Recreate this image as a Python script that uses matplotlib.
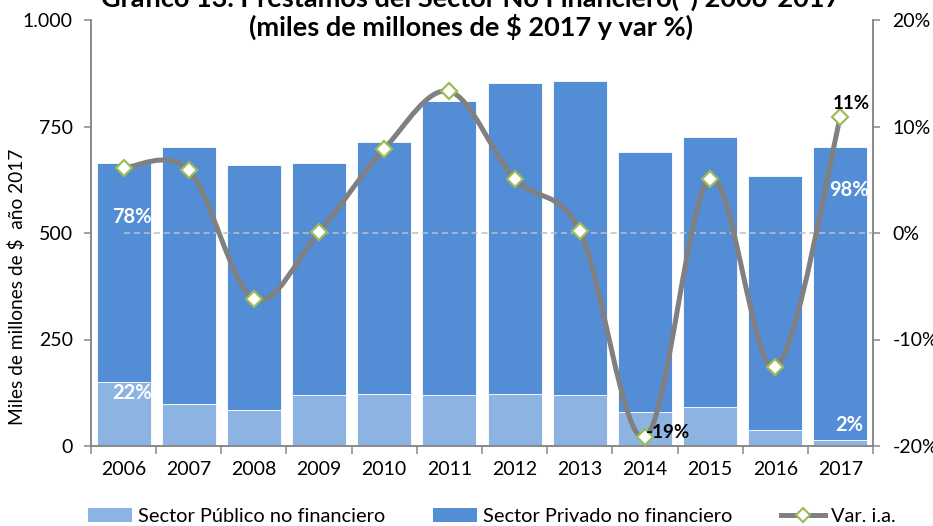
import matplotlib
matplotlib.use("Agg")
import matplotlib.pyplot as plt
from matplotlib.path import Path
from matplotlib.patches import PathPatch, Patch
from matplotlib.lines import Line2D
import numpy as np

plt.rcParams['font.family'] = ['Lato', 'DejaVu Sans']

years = ['2006', '2007', '2008', '2009', '2010', '2011', '2012', '2013', '2014', '2015', '2016', '2017']
publico = [150, 99, 85, 120, 123, 120, 123, 120, 80, 92, 37, 14]
total = [664, 702, 660, 664, 714, 810, 852, 857, 690, 725, 634, 702]
privado = [t - p for t, p in zip(total, publico)]
var_ia = [6.1, 5.9, -6.2, 0.1, 7.9, 13.3, 5.1, 0.2, -19.2, 5.1, -12.6, 10.9]

left_ticks = [0, 250, 500, 750, 1000]
left_ticklabels = ['0', '250', '500', '750', '1.000']
right_ticks = [-20, -10, 0, 10, 20]
right_ticklabels = ['-20%', '-10%', '0%', '10%', '20%']

share_labels = [(0, 'priv', '78%'), (0, 'pub', '22%'), (11, 'priv', '98%'), (11, 'pub', '2%')]
var_labels = [(8, '-19%'), (11, '11%')]

c_pub = '#8DB3E2'
c_priv = '#538DD5'
c_line = '#808080'
c_mark = '#9BBB59'
c_axis = '#868686'

fig = plt.figure(figsize=(9.33, 5.26), dpi=100)
ax = fig.add_axes([91/933, 1-446/526, (873-91)/933, (446-20)/526])
ax2 = ax.twinx()

x = np.arange(len(years))
w = 0.83
ax.bar(x, publico, width=w, color=c_pub, edgecolor='white', linewidth=0.6, zorder=2)
ax.bar(x, privado, width=w, bottom=publico, color=c_priv, edgecolor='white', linewidth=0.6, zorder=2)

ax.set_xlim(-0.5, len(years) - 0.5)
ax.set_ylim(0, 1000)
ax2.set_ylim(-20, 20)

# share labels
for i, kind, txt in share_labels:
    if kind == 'priv':
        yy = 537 if i == 0 else 601
    else:
        yy = 124 if i == 0 else 49
    ax.text(i + 0.13, yy, txt, color='white', fontsize=14.5, fontweight='bold',
            ha='center', va='center', zorder=5)

# zero dashed line
ax2.plot([0, len(years) - 0.5], [0, 0], color='#BFBFBF', lw=1.1, ls=(0, (4, 2.5)), zorder=1)

# smooth line (Catmull-Rom bezier like Excel's smoothing)
pts = np.column_stack([x, var_ia]).astype(float)
n = len(pts)
verts = [pts[0]]
codes = [Path.MOVETO]
for i in range(n - 1):
    p0 = pts[i - 1] if i > 0 else pts[i]
    p1 = pts[i]
    p2 = pts[i + 1]
    p3 = pts[i + 2] if i + 2 < n else pts[i + 1]
    c1 = p1 + (p2 - p0) / 6.0
    c2 = p2 - (p3 - p1) / 6.0
    verts += [c1, c2, p2]
    codes += [Path.CURVE4] * 3
path = Path(verts, codes)
ax2.add_patch(PathPatch(path, facecolor='none', edgecolor=c_line, lw=3.6, capstyle='round', zorder=3))
ax2.plot(x, var_ia, ls='none', marker='D', ms=8, mfc='white', mec=c_mark, mew=1.6, zorder=4)

for i, txt in var_labels:
    if i == 8:
        ax2.text(i + 0.36, -18.7, txt, fontsize=13.5, fontweight='bold', ha='center', va='center', zorder=5)
    else:
        ax2.text(i + 0.17, 12.2, txt, fontsize=13.5, fontweight='bold', ha='center', va='center', zorder=5)

# axes styling
for a in (ax, ax2):
    a.spines['top'].set_visible(False)
    for s in ('left', 'right', 'bottom'):
        a.spines[s].set_color(c_axis)
        a.spines[s].set_linewidth(1.1)
ax.set_yticks(left_ticks)
ax.set_yticklabels(left_ticklabels)
ax2.set_yticks(right_ticks)
ax2.set_yticklabels(right_ticklabels)
ax.tick_params(axis='y', length=5, width=1.1, color=c_axis, pad=8, labelsize=14)
ax2.tick_params(axis='y', length=5, width=1.1, color=c_axis, pad=9, labelsize=14)

ax.set_xticks(x)
ax.set_xticklabels(years)
ax.set_xticks(np.arange(-0.5, len(years)), minor=True)
ax.tick_params(axis='x', which='major', length=0, pad=11, labelsize=14)
ax.tick_params(axis='x', which='minor', length=6, width=1.1, color=c_axis)

fig.text(17/933, 1-287/526, 'Miles de millones de $  año 2017', rotation=90,
         ha='center', va='center', fontsize=13.8)

fig.text(471/933, 1-7/526, 'Gráfico 13. Préstamos del Sector No Financiero(*) 2006-2017',
         ha='center', va='baseline', fontsize=19.5, fontweight='bold')
fig.text(471/933, 1-36/526, '(miles de millones de $ 2017 y var %)',
         ha='center', va='baseline', fontsize=19.5, fontweight='bold')

handles = [Patch(facecolor=c_pub, edgecolor='none'),
           Patch(facecolor=c_priv, edgecolor='none'),
           Line2D([0], [0], color=c_line, lw=3.6, marker='D', ms=7.5, mfc='white', mec=c_mark, mew=1.5)]
labels = ['Sector Público no financiero', 'Sector Privado no financiero', 'Var. i.a.']
fig.legend(handles, labels, loc='center', bbox_to_anchor=(0.527, 0.018), ncol=3, frameon=False,
           fontsize=14.4, handlelength=2.2, handleheight=0.7, handletextpad=0.3, columnspacing=2.4)

fig.savefig('out.png', dpi=100)
